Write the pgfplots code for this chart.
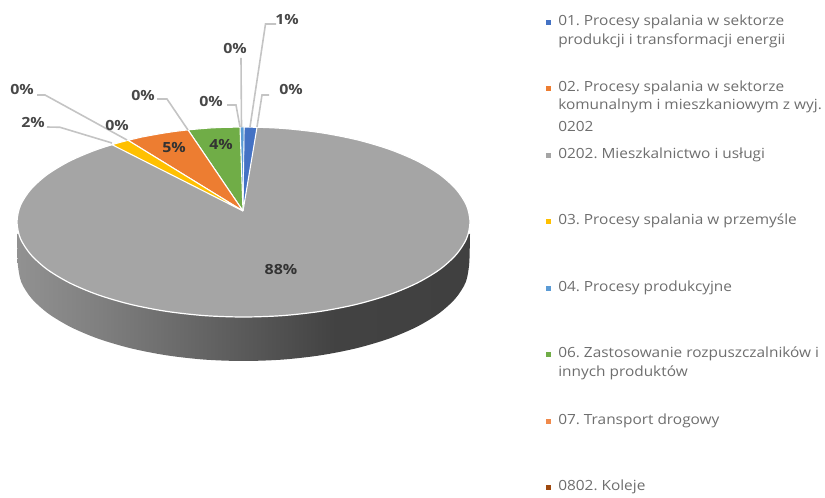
\documentclass[border=0pt]{standalone}
\usepackage{pgfplots}
\pgfplotsset{compat=1.18}
\usepackage{graphicx}
\usepackage{fontspec}
\setmainfont{Open Sans}
\frenchspacing
\definecolor{c01}{HTML}{4472C4}
\definecolor{c02}{HTML}{ED7D31}
\definecolor{c0202}{HTML}{A5A5A5}
\definecolor{c03}{HTML}{FFC000}
\definecolor{c04}{HTML}{5B9BD5}
\definecolor{c06}{HTML}{70AD47}
\definecolor{c07}{HTML}{F08A4B}
\definecolor{c0802}{HTML}{9E480E}
\definecolor{lead}{HTML}{C4C4C4}
\definecolor{txt}{HTML}{6E6E6E}
\definecolor{lbl}{HTML}{484848}
\pgfdeclarehorizontalshading{sidewall}{100bp}{color(0bp)=(white!55!black);color(25bp)=(black!43!white);color(34bp)=(black!50!white);color(60bp)=(black!74!white);color(75bp)=(black!75!white);color(100bp)=(black!75!white)}
\newcommand{\LG}[1]{\scalebox{1.1}[1]{#1}}
\newcommand{\PL}[1]{\scalebox{1.14}[1]{#1}}
\begin{document}
\begin{tikzpicture}
\useasboundingbox (0,0) rectangle (618.75pt,373.5pt);
\begin{axis}[at={(0,0)},anchor=south west,scale only axis,width=618.75pt,height=373.5pt,
  xmin=0,xmax=825,ymin=0,ymax=498,y dir=reverse,hide axis,clip=false]
% side wall
\addplot[draw=none,shading=sidewall,shading angle=0,smooth] coordinates {
(17,234)(17.3,250)(18,266)(21.4,282.5)(31.6,298.5)(48.2,313.5)(70.8,327.1)(98.5,338.8)(130.8,348.3)(166.4,355.3)(204.4,359.6)(243.5,361)(282.6,359.6)(320.6,355.3)(356.2,348.3)(388.5,338.8)(416.2,327.1)(438.8,313.5)(455.4,298.5)(465.6,282.5)(469,266)(469.7,250)(470,234)};
% top
\addplot[fill=c0202,draw=white,line width=0.9pt,smooth cycle] coordinates {
(470,222)(466.6,238.5)(456.3,254.5)(439.7,269.5)(417,283.1)(389.1,294.8)(356.8,304.3)(321,311.3)(282.8,315.6)(243.5,317)
(204.2,315.6)(166,311.3)(130.2,304.3)(97.9,294.8)(70,283.1)(47.3,269.5)(30.7,254.5)(20.4,238.5)(17,222)
(20.4,205.5)(30.7,189.5)(47.3,174.5)(70,160.9)(97.9,149.2)(130.2,139.7)(166,132.7)(204.2,128.4)(243.5,127)
(282.8,128.4)(321,132.7)(356.8,139.7)(389.1,149.2)(417,160.9)(439.7,174.5)(456.3,189.5)(466.6,205.5)};
% sectors
\addplot[fill=c01,draw=white,line width=0.8pt] coordinates {(243,211)(244,127)(250,127.1)(257,127.4)(243,211)};
\addplot[fill=c04,draw=white,line width=0.5pt] coordinates {(243,211)(240,127)(244,127)(243,211)};
\addplot[fill=c06,draw=white,line width=0.8pt] coordinates {(243,211)(240,127)(230,127.3)(220,127.5)(210,128)(200,128.8)(188,129.9)(243,211)};
\addplot[fill=c02,draw=white,line width=0.8pt] coordinates {(243,211)(188,129.9)(175,131.4)(165,132.9)(155,134.6)(142,137)(128,140.3)(243,211)};
\addplot[fill=c03,draw=white,line width=0.8pt] coordinates {(243,211)(128,140.3)(120,142.4)(112,144.7)(243,211)};
% leaders
\addplot[lead,line width=1.2pt] coordinates {(47,127)(60,127.3)(112,143)};
\addplot[lead,line width=1.2pt] coordinates {(37,95)(45,95)(127,140)};
\addplot[lead,line width=1.2pt] coordinates {(157,99)(167,99)(188,130)};
\addplot[lead,line width=1.2pt] coordinates {(227,105)(236,105)(240,127)};
\addplot[lead,line width=1.2pt] coordinates {(241,58)(241.5,127)};
\addplot[lead,line width=1.2pt] coordinates {(276,24)(265.5,24)(250,127)};
\addplot[lead,line width=1.2pt] coordinates {(269,95)(262,95)(257,127)};
% legend markers
\addplot[only marks,mark=square*,mark size=1.6pt,mark options={c01,fill=c01}] coordinates {(548,22)};
\addplot[only marks,mark=square*,mark size=1.6pt,mark options={c02,fill=c02}] coordinates {(548,88)};
\addplot[only marks,mark=square*,mark size=1.6pt,mark options={c0202,fill=c0202}] coordinates {(548,155)};
\addplot[only marks,mark=square*,mark size=1.6pt,mark options={c03,fill=c03}] coordinates {(548,221)};
\addplot[only marks,mark=square*,mark size=1.6pt,mark options={c04,fill=c04}] coordinates {(548,288)};
\addplot[only marks,mark=square*,mark size=1.6pt,mark options={c06,fill=c06}] coordinates {(548,354)};
\addplot[only marks,mark=square*,mark size=1.6pt,mark options={c07,fill=c07}] coordinates {(548,421)};
\addplot[only marks,mark=square*,mark size=1.6pt,mark options={c0802,fill=c0802}] coordinates {(548,487)};
% data labels
\tikzset{pl/.style={font=\fontsize{10.5pt}{12pt}\selectfont\bfseries,text=lbl,inner sep=0pt}}
\node[pl] at (axis cs:287,19) {\PL{1\%}};
\node[pl] at (axis cs:235,48) {\PL{0\%}};
\node[pl] at (axis cs:291,89) {\PL{0\%}};
\node[pl] at (axis cs:211,101) {\PL{0\%}};
\node[pl] at (axis cs:143,95) {\PL{0\%}};
\node[pl] at (axis cs:22,89) {\PL{0\%}};
\node[pl] at (axis cs:117,125) {\PL{0\%}};
\node[pl] at (axis cs:33,122) {\PL{2\%}};
\node[pl,text=black!80] at (axis cs:174,148) {\PL{5\%}};
\node[pl,text=black!80] at (axis cs:221,144) {\PL{4\%}};
\node[pl,text=black!80] at (axis cs:281,270) {\PL{88\%}};
% legend text
\tikzset{lg/.style={font=\fontsize{10.5pt}{12pt}\selectfont,text=txt,inner sep=0pt,anchor=west}}
\node[lg] at (axis cs:558,22) {\LG{01. Procesy spalania w sektorze}};
\node[lg] at (axis cs:558,41) {\LG{produkcji i transformacji energii}};
\node[lg] at (axis cs:558,88) {\LG{02. Procesy spalania w sektorze}};
\node[lg] at (axis cs:558,106) {\LG{komunalnym i mieszkaniowym z wyj.}};
\node[lg] at (axis cs:558,126) {\LG{0202}};
\node[lg] at (axis cs:558,155) {\LG{0202. Mieszkalnictwo i usługi}};
\node[lg] at (axis cs:558,221) {\LG{03. Procesy spalania w przemyśle}};
\node[lg] at (axis cs:558,288) {\LG{04. Procesy produkcyjne}};
\node[lg] at (axis cs:558,354) {\LG{06. Zastosowanie rozpuszczalników i}};
\node[lg] at (axis cs:558,373) {\LG{innych produktów}};
\node[lg] at (axis cs:558,421) {\LG{07. Transport drogowy}};
\node[lg] at (axis cs:558,487) {\LG{0802. Koleje}};
\end{axis}
\end{tikzpicture}
\end{document}
